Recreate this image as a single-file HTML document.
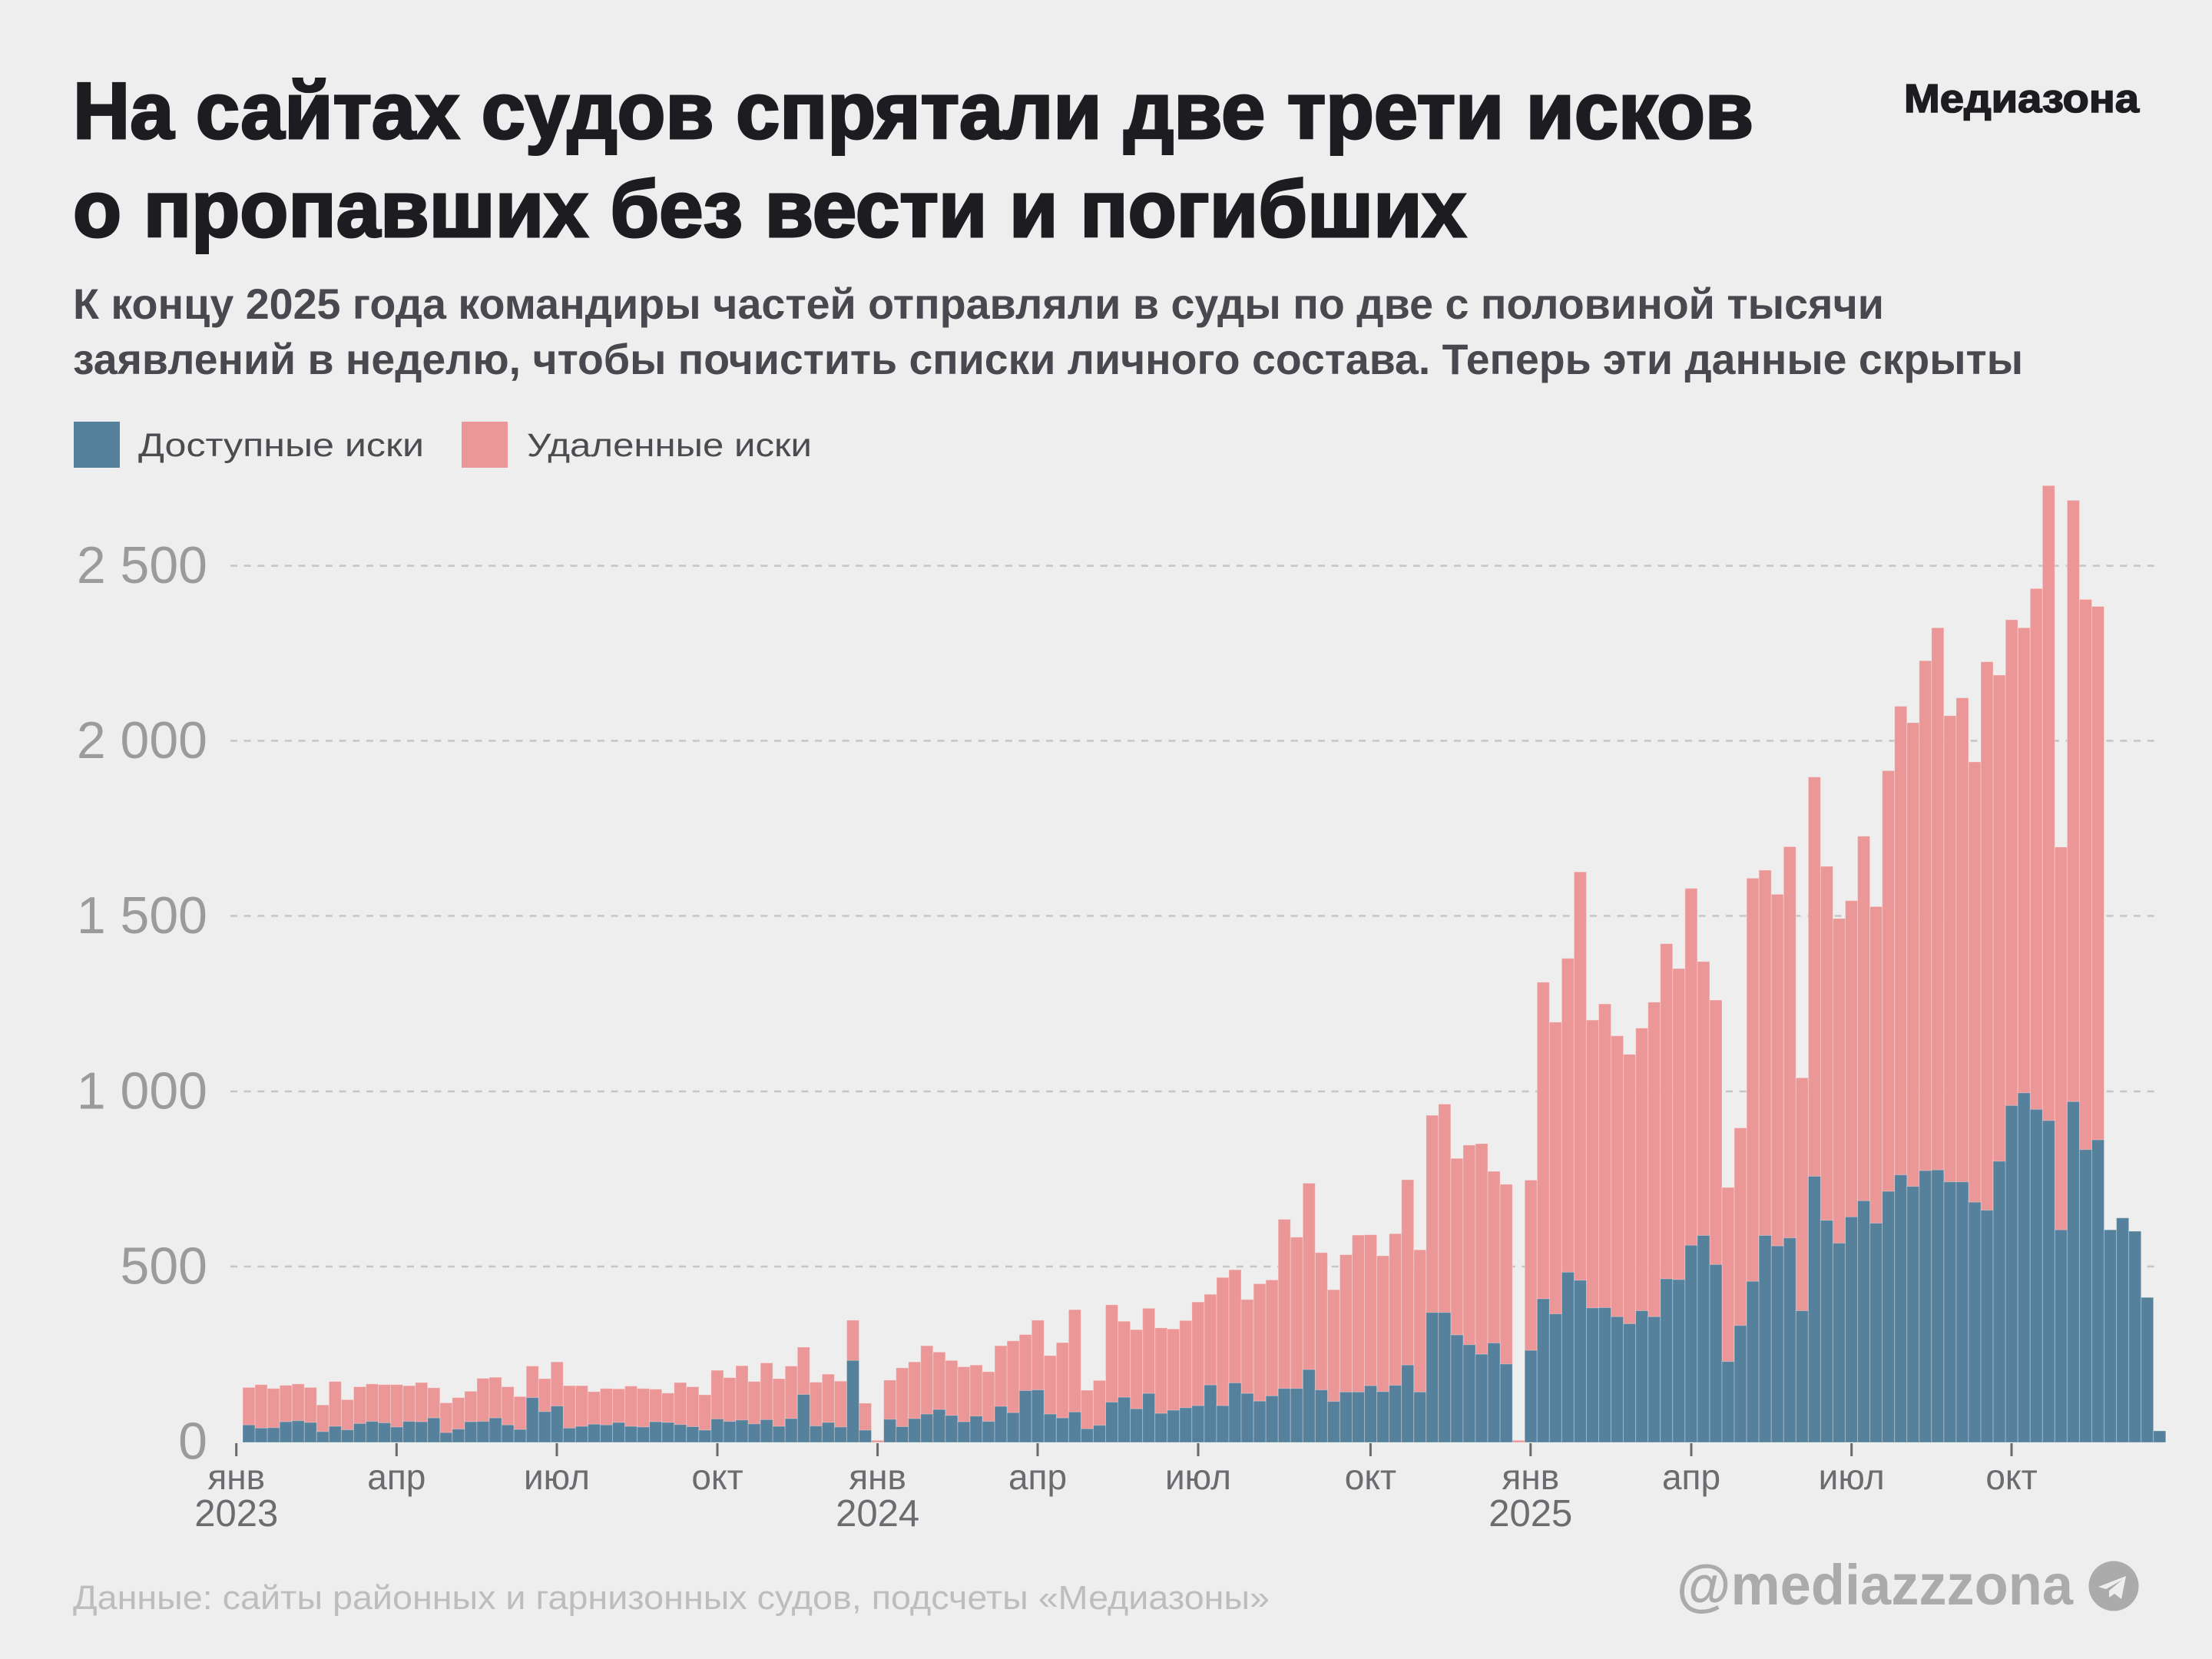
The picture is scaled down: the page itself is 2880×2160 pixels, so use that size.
<!DOCTYPE html>
<html lang="ru">
<head>
<meta charset="utf-8">
<style>
html,body{margin:0;padding:0;background:#eeeeee;}
svg{display:block;}
text{font-family:"Liberation Sans","DejaVu Sans",sans-serif;}
.bars rect{vector-effect:non-scaling-stroke;}
</style>
</head>
<body>
<svg width="2880" height="2160" viewBox="0 0 2880 2160" xmlns="http://www.w3.org/2000/svg">
<rect x="0" y="0" width="2880" height="2160" fill="#eeeeee"/>

<!-- Title -->
<text x="95" y="180" font-size="104" font-weight="bold" fill="#1c1c21" stroke="#1c1c21" stroke-width="3" textLength="2188" lengthAdjust="spacingAndGlyphs">На сайтах судов спрятали две трети исков</text>
<text x="95" y="308" font-size="104" font-weight="bold" fill="#1c1c21" stroke="#1c1c21" stroke-width="3" textLength="1814" lengthAdjust="spacingAndGlyphs">о пропавших без вести и погибших</text>
<text x="2479" y="146" font-size="52" font-weight="bold" fill="#1c1c21" stroke="#1c1c21" stroke-width="1.6" textLength="306" lengthAdjust="spacingAndGlyphs">Медиазона</text>

<!-- Subtitle -->
<text x="95" y="415" font-size="56" font-weight="bold" fill="#48484e" textLength="2358" lengthAdjust="spacingAndGlyphs">К концу 2025 года командиры частей отправляли в суды по две с половиной тысячи</text>
<text x="95" y="487" font-size="56" font-weight="bold" fill="#48484e" textLength="2539" lengthAdjust="spacingAndGlyphs">заявлений в неделю, чтобы почистить списки личного состава. Теперь эти данные скрыты</text>

<!-- Legend -->
<rect x="96" y="549" width="60" height="60" fill="#55819c"/>
<text x="180" y="594" font-size="43" fill="#4b4b50" textLength="372" lengthAdjust="spacingAndGlyphs">Доступные иски</text>
<rect x="601" y="549" width="60" height="60" fill="#ec9797"/>
<text x="686" y="594" font-size="43" fill="#4b4b50" textLength="371" lengthAdjust="spacingAndGlyphs">Удаленные иски</text>

<!-- Gridlines -->
<g stroke="#c5c5c5" stroke-width="2.5" stroke-dasharray="9 8.7">
<line x1="300" x2="2812" y1="736.6" y2="736.6"/>
<line x1="300" x2="2812" y1="964.5" y2="964.5"/>
<line x1="300" x2="2812" y1="1192.5" y2="1192.5"/>
<line x1="300" x2="2812" y1="1421" y2="1421"/>
<line x1="300" x2="2812" y1="1649" y2="1649"/>
</g>

<!-- Y labels -->
<g font-size="68" fill="#9b9b9b" text-anchor="end">
<text x="270" y="759">2 500</text>
<text x="270" y="987">2 000</text>
<text x="270" y="1215">1 500</text>
<text x="270" y="1443.5">1 000</text>
<text x="270" y="1671.5">500</text>
<text x="270" y="1899.5">0</text>
</g>

<!-- Bars -->
<g class="bars" transform="translate(316,1878) scale(16.05,-0.456)" stroke="#ffffff" stroke-opacity="0.3" stroke-width="1">
<g fill="#ec9797">
<rect x="0" width="1" height="157"/><rect x="1" width="1" height="165"/><rect x="2" width="1" height="154"/><rect x="3" width="1" height="163"/><rect x="4" width="1" height="167"/><rect x="5" width="1" height="157"/><rect x="6" width="1" height="107"/><rect x="7" width="1" height="174"/><rect x="8" width="1" height="122"/><rect x="9" width="1" height="159"/>
<rect x="10" width="1" height="167"/><rect x="11" width="1" height="165"/><rect x="12" width="1" height="165"/><rect x="13" width="1" height="162"/><rect x="14" width="1" height="171"/><rect x="15" width="1" height="156"/><rect x="16" width="1" height="113"/><rect x="17" width="1" height="128"/><rect x="18" width="1" height="146"/><rect x="19" width="1" height="183"/>
<rect x="20" width="1" height="186"/><rect x="21" width="1" height="159"/><rect x="22" width="1" height="131"/><rect x="23" width="1" height="218"/><rect x="24" width="1" height="182"/><rect x="25" width="1" height="230"/><rect x="26" width="1" height="162"/><rect x="27" width="1" height="162"/><rect x="28" width="1" height="145"/><rect x="29" width="1" height="154"/>
<rect x="30" width="1" height="153"/><rect x="31" width="1" height="161"/><rect x="32" width="1" height="154"/><rect x="33" width="1" height="152"/><rect x="34" width="1" height="141"/><rect x="35" width="1" height="171"/><rect x="36" width="1" height="159"/><rect x="37" width="1" height="136"/><rect x="38" width="1" height="206"/><rect x="39" width="1" height="185"/>
<rect x="40" width="1" height="219"/><rect x="41" width="1" height="174"/><rect x="42" width="1" height="227"/><rect x="43" width="1" height="182"/><rect x="44" width="1" height="218"/><rect x="45" width="1" height="272"/><rect x="46" width="1" height="172"/><rect x="47" width="1" height="195"/><rect x="48" width="1" height="175"/><rect x="49" width="1" height="349"/>
<rect x="50" width="1" height="112"/><rect x="51" width="1" height="6"/>
<rect x="52" width="1" height="178"/><rect x="53" width="1" height="213"/><rect x="54" width="1" height="230"/><rect x="55" width="1" height="276"/><rect x="56" width="1" height="258"/><rect x="57" width="1" height="234"/><rect x="58" width="1" height="216"/><rect x="59" width="1" height="221"/>
<rect x="60" width="1" height="202"/><rect x="61" width="1" height="276"/><rect x="62" width="1" height="290"/><rect x="63" width="1" height="308"/><rect x="64" width="1" height="349"/><rect x="65" width="1" height="248"/><rect x="66" width="1" height="285"/><rect x="67" width="1" height="379"/><rect x="68" width="1" height="149"/><rect x="69" width="1" height="177"/>
<rect x="70" width="1" height="393"/><rect x="71" width="1" height="346"/><rect x="72" width="1" height="322"/><rect x="73" width="1" height="383"/><rect x="74" width="1" height="327"/><rect x="75" width="1" height="324"/><rect x="76" width="1" height="348"/><rect x="77" width="1" height="401"/><rect x="78" width="1" height="423"/><rect x="79" width="1" height="471"/>
<rect x="80" width="1" height="493"/><rect x="81" width="1" height="408"/><rect x="82" width="1" height="453"/><rect x="83" width="1" height="464"/><rect x="84" width="1" height="637"/><rect x="85" width="1" height="586"/><rect x="86" width="1" height="740"/><rect x="87" width="1" height="542"/><rect x="88" width="1" height="436"/><rect x="89" width="1" height="536"/>
<rect x="90" width="1" height="592"/><rect x="91" width="1" height="593"/><rect x="92" width="1" height="533"/><rect x="93" width="1" height="596"/><rect x="94" width="1" height="750"/><rect x="95" width="1" height="550"/><rect x="96" width="1" height="934"/><rect x="97" width="1" height="966"/><rect x="98" width="1" height="811"/><rect x="99" width="1" height="849"/>
<rect x="100" width="1" height="853"/><rect x="101" width="1" height="774"/><rect x="102" width="1" height="737"/><rect x="103" width="1" height="6"/>
<rect x="104" width="1" height="749"/><rect x="105" width="1" height="1314"/><rect x="106" width="1" height="1200"/><rect x="107" width="1" height="1382"/><rect x="108" width="1" height="1629"/><rect x="109" width="1" height="1206"/>
<rect x="110" width="1" height="1252"/><rect x="111" width="1" height="1161"/><rect x="112" width="1" height="1108"/><rect x="113" width="1" height="1183"/><rect x="114" width="1" height="1257"/><rect x="115" width="1" height="1424"/><rect x="116" width="1" height="1353"/><rect x="117" width="1" height="1582"/><rect x="118" width="1" height="1373"/><rect x="119" width="1" height="1263"/>
<rect x="120" width="1" height="728"/><rect x="121" width="1" height="898"/><rect x="122" width="1" height="1611"/><rect x="123" width="1" height="1634"/><rect x="124" width="1" height="1565"/><rect x="125" width="1" height="1701"/><rect x="126" width="1" height="1041"/><rect x="127" width="1" height="1900"/><rect x="128" width="1" height="1645"/><rect x="129" width="1" height="1496"/>
<rect x="130" width="1" height="1547"/><rect x="131" width="1" height="1731"/><rect x="132" width="1" height="1530"/><rect x="133" width="1" height="1918"/><rect x="134" width="1" height="2102"/><rect x="135" width="1" height="2055"/><rect x="136" width="1" height="2232"/><rect x="137" width="1" height="2326"/><rect x="138" width="1" height="2075"/><rect x="139" width="1" height="2126"/>
<rect x="140" width="1" height="1943"/><rect x="141" width="1" height="2229"/><rect x="142" width="1" height="2191"/><rect x="143" width="1" height="2349"/><rect x="144" width="1" height="2326"/><rect x="145" width="1" height="2438"/><rect x="146" width="1" height="2732"/><rect x="147" width="1" height="1700"/><rect x="148" width="1" height="2690"/><rect x="149" width="1" height="2407"/>
<rect x="150" width="1" height="2387"/>
</g>
<g fill="#55819c">
<rect x="0" width="1" height="50"/><rect x="1" width="1" height="41"/><rect x="2" width="1" height="42"/><rect x="3" width="1" height="59"/><rect x="4" width="1" height="62"/><rect x="5" width="1" height="57"/><rect x="6" width="1" height="31"/><rect x="7" width="1" height="46"/><rect x="8" width="1" height="36"/><rect x="9" width="1" height="54"/>
<rect x="10" width="1" height="60"/><rect x="11" width="1" height="56"/><rect x="12" width="1" height="44"/><rect x="13" width="1" height="60"/><rect x="14" width="1" height="59"/><rect x="15" width="1" height="70"/><rect x="16" width="1" height="28"/><rect x="17" width="1" height="38"/><rect x="18" width="1" height="59"/><rect x="19" width="1" height="60"/>
<rect x="20" width="1" height="70"/><rect x="21" width="1" height="50"/><rect x="22" width="1" height="37"/><rect x="23" width="1" height="128"/><rect x="24" width="1" height="88"/><rect x="25" width="1" height="104"/><rect x="26" width="1" height="41"/><rect x="27" width="1" height="46"/><rect x="28" width="1" height="52"/><rect x="29" width="1" height="50"/>
<rect x="30" width="1" height="57"/><rect x="31" width="1" height="46"/><rect x="32" width="1" height="44"/><rect x="33" width="1" height="59"/><rect x="34" width="1" height="57"/><rect x="35" width="1" height="51"/><rect x="36" width="1" height="45"/><rect x="37" width="1" height="35"/><rect x="38" width="1" height="67"/><rect x="39" width="1" height="60"/>
<rect x="40" width="1" height="64"/><rect x="41" width="1" height="53"/><rect x="42" width="1" height="65"/><rect x="43" width="1" height="46"/><rect x="44" width="1" height="68"/><rect x="45" width="1" height="137"/><rect x="46" width="1" height="47"/><rect x="47" width="1" height="57"/><rect x="48" width="1" height="44"/><rect x="49" width="1" height="234"/>
<rect x="50" width="1" height="35"/>
<rect x="52" width="1" height="66"/><rect x="53" width="1" height="45"/><rect x="54" width="1" height="68"/><rect x="55" width="1" height="81"/><rect x="56" width="1" height="94"/><rect x="57" width="1" height="77"/><rect x="58" width="1" height="59"/><rect x="59" width="1" height="75"/>
<rect x="60" width="1" height="60"/><rect x="61" width="1" height="103"/><rect x="62" width="1" height="85"/><rect x="63" width="1" height="148"/><rect x="64" width="1" height="150"/><rect x="65" width="1" height="81"/><rect x="66" width="1" height="70"/><rect x="67" width="1" height="87"/><rect x="68" width="1" height="39"/><rect x="69" width="1" height="49"/>
<rect x="70" width="1" height="115"/><rect x="71" width="1" height="129"/><rect x="72" width="1" height="96"/><rect x="73" width="1" height="140"/><rect x="74" width="1" height="83"/><rect x="75" width="1" height="92"/><rect x="76" width="1" height="99"/><rect x="77" width="1" height="105"/><rect x="78" width="1" height="164"/><rect x="79" width="1" height="105"/>
<rect x="80" width="1" height="170"/><rect x="81" width="1" height="140"/><rect x="82" width="1" height="118"/><rect x="83" width="1" height="133"/><rect x="84" width="1" height="154"/><rect x="85" width="1" height="154"/><rect x="86" width="1" height="208"/><rect x="87" width="1" height="150"/><rect x="88" width="1" height="117"/><rect x="89" width="1" height="144"/>
<rect x="90" width="1" height="144"/><rect x="91" width="1" height="162"/><rect x="92" width="1" height="145"/><rect x="93" width="1" height="163"/><rect x="94" width="1" height="221"/><rect x="95" width="1" height="144"/><rect x="96" width="1" height="371"/><rect x="97" width="1" height="371"/><rect x="98" width="1" height="307"/><rect x="99" width="1" height="279"/>
<rect x="100" width="1" height="252"/><rect x="101" width="1" height="284"/><rect x="102" width="1" height="224"/>
<rect x="104" width="1" height="263"/><rect x="105" width="1" height="410"/><rect x="106" width="1" height="367"/><rect x="107" width="1" height="486"/><rect x="108" width="1" height="463"/><rect x="109" width="1" height="384"/>
<rect x="110" width="1" height="385"/><rect x="111" width="1" height="359"/><rect x="112" width="1" height="339"/><rect x="113" width="1" height="376"/><rect x="114" width="1" height="359"/><rect x="115" width="1" height="467"/><rect x="116" width="1" height="465"/><rect x="117" width="1" height="563"/><rect x="118" width="1" height="591"/><rect x="119" width="1" height="508"/>
<rect x="120" width="1" height="231"/><rect x="121" width="1" height="334"/><rect x="122" width="1" height="460"/><rect x="123" width="1" height="591"/><rect x="124" width="1" height="561"/><rect x="125" width="1" height="584"/><rect x="126" width="1" height="376"/><rect x="127" width="1" height="760"/><rect x="128" width="1" height="634"/><rect x="129" width="1" height="569"/>
<rect x="130" width="1" height="644"/><rect x="131" width="1" height="690"/><rect x="132" width="1" height="626"/><rect x="133" width="1" height="717"/><rect x="134" width="1" height="764"/><rect x="135" width="1" height="731"/><rect x="136" width="1" height="776"/><rect x="137" width="1" height="778"/><rect x="138" width="1" height="744"/><rect x="139" width="1" height="744"/>
<rect x="140" width="1" height="686"/><rect x="141" width="1" height="663"/><rect x="142" width="1" height="803"/><rect x="143" width="1" height="962"/><rect x="144" width="1" height="998"/><rect x="145" width="1" height="951"/><rect x="146" width="1" height="919"/><rect x="147" width="1" height="607"/><rect x="148" width="1" height="973"/><rect x="149" width="1" height="836"/>
<rect x="150" width="1" height="864"/><rect x="151" width="1" height="607"/><rect x="152" width="1" height="641"/><rect x="153" width="1" height="603"/><rect x="154" width="1" height="414"/><rect x="155" width="1" height="33"/>
</g>
</g>

<!-- X ticks -->
<g stroke="#6a6a6a" stroke-width="3">
<line x1="307.7" x2="307.7" y1="1879" y2="1896"/>
<line x1="516.3" x2="516.3" y1="1879" y2="1896"/>
<line x1="725" x2="725" y1="1879" y2="1896"/>
<line x1="934" x2="934" y1="1879" y2="1896"/>
<line x1="1142.6" x2="1142.6" y1="1879" y2="1896"/>
<line x1="1351" x2="1351" y1="1879" y2="1896"/>
<line x1="1560" x2="1560" y1="1879" y2="1896"/>
<line x1="1784.4" x2="1784.4" y1="1879" y2="1896"/>
<line x1="1992.8" x2="1992.8" y1="1879" y2="1896"/>
<line x1="2202" x2="2202" y1="1879" y2="1896"/>
<line x1="2410.7" x2="2410.7" y1="1879" y2="1896"/>
<line x1="2619" x2="2619" y1="1879" y2="1896"/>
</g>

<!-- X labels -->
<g font-size="46" fill="#6b6b70" text-anchor="middle">
<text x="307.7" y="1939">янв</text>
<text x="516.3" y="1939">апр</text>
<text x="725" y="1939">июл</text>
<text x="934" y="1939">окт</text>
<text x="1142.6" y="1939">янв</text>
<text x="1351" y="1939">апр</text>
<text x="1560" y="1939">июл</text>
<text x="1784.4" y="1939">окт</text>
<text x="1992.8" y="1939">янв</text>
<text x="2202" y="1939">апр</text>
<text x="2410.7" y="1939">июл</text>
<text x="2619" y="1939">окт</text>
</g>
<g font-size="49" fill="#6b6b70" text-anchor="middle">
<text x="307.7" y="1987">2023</text>
<text x="1142.6" y="1987">2024</text>
<text x="1992.8" y="1987">2025</text>
</g>

<!-- Footer -->
<text x="95" y="2095" font-size="43.5" fill="#bdbdbd" textLength="1558" lengthAdjust="spacingAndGlyphs">Данные: сайты районных и гарнизонных судов, подсчеты «Медиазоны»</text>
<text x="2183" y="2089" font-size="74" font-weight="bold" fill="#ababab" textLength="516" lengthAdjust="spacingAndGlyphs">@mediazzzona</text>
<circle cx="2752" cy="2065" r="32.5" fill="#ababab"/>
<path d="M2732,2066 L2768,2052 L2762,2082 L2753,2075 L2746,2080 L2746,2071 L2763,2057 L2742,2069 Z" fill="#eeeeee"/>
</svg>
</body>
</html>
